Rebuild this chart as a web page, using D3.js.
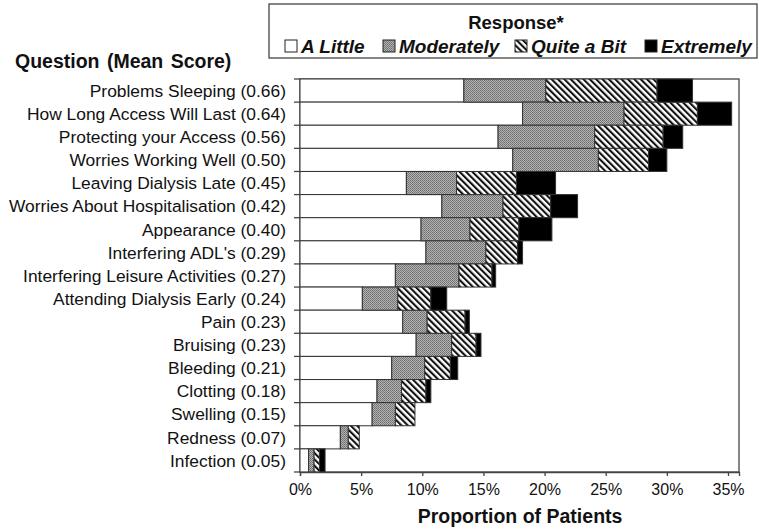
<!DOCTYPE html>
<html>
  <head>
    <meta charset="utf-8" />
    <title>Proportion of Patients by Response</title>
    <script src="https://d3js.org/d3.v7.min.js"></script>
    <style>
      body { margin: 0; background: #fff; }
      text { font-family: "Liberation Sans", Arial, sans-serif; fill: #111; }
    </style>
  </head>
  <body>
    <svg id="chart" width="759" height="530"></svg>

    <script>
      // Datos (porcentaje de pacientes por respuesta)
      const questions = [
        "Problems Sleeping (0.66)",
        "How Long Access Will Last (0.64)",
        "Protecting your Access (0.56)",
        "Worries Working Well (0.50)",
        "Leaving Dialysis Late (0.45)",
        "Worries About Hospitalisation (0.42)",
        "Appearance (0.40)",
        "Interfering ADL's (0.29)",
        "Interfering Leisure Activities (0.27)",
        "Attending Dialysis Early (0.24)",
        "Pain (0.23)",
        "Bruising (0.23)",
        "Bleeding (0.21)",
        "Clotting (0.18)",
        "Swelling (0.15)",
        "Redness (0.07)",
        "Infection (0.05)"
      ];
      const aLittle    = [13.4, 18.2, 16.2, 17.4, 8.7, 11.6, 9.9, 10.3, 7.8, 5.1, 8.4, 9.5, 7.5, 6.3, 5.9, 3.3, 0.7];
      const moderately = [6.7, 8.3, 7.9, 7.0, 4.1, 5.0, 4.0, 4.9, 5.2, 2.9, 2.0, 2.9, 2.7, 2.0, 1.9, 0.65, 0.45];
      const quiteABit  = [9.1, 6.0, 5.6, 4.1, 4.9, 3.9, 4.0, 2.6, 2.7, 2.7, 3.1, 2.0, 2.1, 2.0, 1.6, 0.9, 0.45];
      const extremely  = [2.9, 2.8, 1.6, 1.5, 3.2, 2.2, 2.7, 0.4, 0.3, 1.3, 0.35, 0.4, 0.6, 0.4, 0, 0, 0.45];
      const responses = ["A Little", "Moderately", "Quite a Bit", "Extremely"];
      const xTicks = [0, 5, 10, 15, 20, 25, 30, 35];

      const svg = d3.select("#chart");
      const plot = { left: 300, right: 739, top: 79, bottom: 472 };

      // Patrones de relleno
      const defs = svg.append("defs");
      const dots = defs.append("pattern")
        .attr("id", "pat-mod")
        .attr("patternUnits", "userSpaceOnUse")
        .attr("width", 2).attr("height", 2);
      dots.append("rect").attr("width", 2).attr("height", 2).attr("fill", "#b4b4b4");
      dots.append("rect").attr("width", 1).attr("height", 1).attr("fill", "#6e6e6e");
      dots.append("rect").attr("x", 1).attr("y", 1).attr("width", 1).attr("height", 1).attr("fill", "#7a7a7a");

      const stripes = defs.append("pattern")
        .attr("id", "pat-quite")
        .attr("patternUnits", "userSpaceOnUse")
        .attr("width", 4.5).attr("height", 4.5)
        .attr("patternTransform", "rotate(-45)");
      stripes.append("rect").attr("width", 4.5).attr("height", 4.5).attr("fill", "#fff");
      stripes.append("rect").attr("width", 2.1).attr("height", 4.5).attr("fill", "#111");

      const fills = ["#ffffff", "url(#pat-mod)", "url(#pat-quite)", "#000000"];

      // Escalas
      const x = d3.scaleLinear().domain([0, 35.9]).range([plot.left, plot.right]);
      const y = d3.scaleBand().domain(questions).range([plot.top, plot.bottom]).padding(0);

      // Apilar series
      const rows = questions.map((q, i) => ({
        q,
        "A Little": aLittle[i],
        "Moderately": moderately[i],
        "Quite a Bit": quiteABit[i],
        "Extremely": extremely[i]
      }));
      const series = d3.stack().keys(responses)(rows);

      // Marco del gráfico
      svg.append("rect")
        .attr("x", plot.left).attr("y", plot.top)
        .attr("width", plot.right - plot.left).attr("height", plot.bottom - plot.top)
        .attr("fill", "none").attr("stroke", "#444").attr("stroke-width", 1.3);

      // Barras
      svg.append("g")
        .selectAll("g")
        .data(series)
        .join("g")
        .attr("fill", (d, i) => fills[i])
        .selectAll("rect")
        .data((d) => d.filter((s) => s[1] - s[0] > 0))
        .join("rect")
        .attr("x", (d) => x(d[0]))
        .attr("y", (d) => y(d.data.q))
        .attr("width", (d) => x(d[1]) - x(d[0]))
        .attr("height", y.bandwidth())
        .attr("stroke", "#333")
        .attr("stroke-width", 1);

      // Eje x
      const xAxis = d3.axisBottom(x)
        .tickValues(xTicks)
        .tickSize(4)
        .tickPadding(8)
        .tickFormat((d) => d + "%");
      const gx = svg.append("g")
        .attr("transform", `translate(0,${plot.bottom})`)
        .call(xAxis);
      gx.select(".domain").attr("stroke", "#444").attr("stroke-width", 1.3);
      gx.selectAll(".tick line").attr("stroke", "#444").attr("stroke-width", 1.3);
      gx.selectAll(".tick text")
        .style("font-size", "16px")
        .attr("fill", "#111");

      // Eje y: marcas en los límites de banda
      const bounds = questions.map((q) => y(q)).concat([plot.bottom]);
      svg.append("g")
        .selectAll("line")
        .data(bounds)
        .join("line")
        .attr("x1", plot.left - 6).attr("x2", plot.left)
        .attr("y1", (d) => d).attr("y2", (d) => d)
        .attr("stroke", "#444").attr("stroke-width", 1.3);

      svg.append("g")
        .selectAll("text")
        .data(questions)
        .join("text")
        .attr("x", 286)
        .attr("y", (d) => y(d) + y.bandwidth() / 2)
        .attr("dy", "0.36em")
        .attr("text-anchor", "end")
        .style("font-size", "17.4px")
        .text((d) => d);

      // Títulos
      svg.append("text")
        .attr("x", 15).attr("y", 68)
        .style("font-size", "19.5px").style("font-weight", "bold")
        .style("word-spacing", "2px")
        .text("Question (Mean Score)");

      svg.append("text")
        .attr("x", 520).attr("y", 523)
        .attr("text-anchor", "middle")
        .style("font-size", "19.5px").style("font-weight", "bold")
        .text("Proportion of Patients");

      // Leyenda
      const legend = svg.append("g");
      legend.append("rect")
        .attr("x", 269).attr("y", 4).attr("width", 488).attr("height", 54)
        .attr("fill", "#fff").attr("stroke", "#444").attr("stroke-width", 1.3);
      legend.append("text")
        .attr("x", 516).attr("y", 29)
        .attr("text-anchor", "middle")
        .style("font-size", "18.5px").style("font-weight", "bold")
        .text("Response*");

      const legendX = [285, 383, 515, 645];
      const item = legend.selectAll("g.item")
        .data(responses)
        .join("g")
        .attr("class", "item")
        .attr("transform", (d, i) => `translate(${legendX[i]},40)`);
      item.append("rect")
        .attr("width", 12).attr("height", 12)
        .attr("fill", (d, i) => fills[i])
        .attr("stroke", "#222").attr("stroke-width", 1);
      item.append("text")
        .attr("x", 16).attr("y", 12.5)
        .style("font-size", "19px")
        .style("font-weight", "bold")
        .style("font-style", "italic")
        .text((d) => d);
    </script>
  </body>
</html>
